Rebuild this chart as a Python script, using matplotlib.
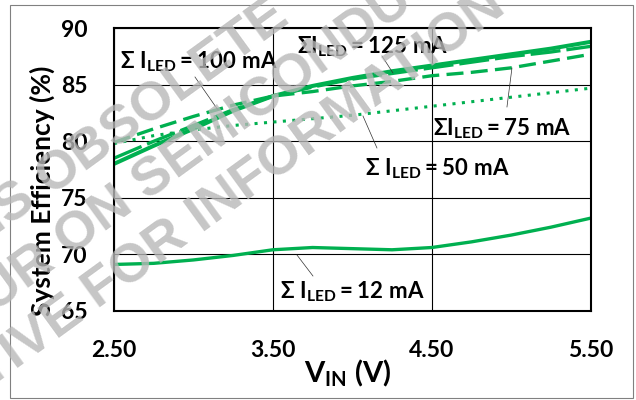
import matplotlib
matplotlib.use("Agg")
import matplotlib.pyplot as plt
from matplotlib.patches import Rectangle

plt.rcParams['font.family'] = ['Lato', 'DejaVu Sans']
plt.rcParams['mathtext.fontset'] = 'custom'
plt.rcParams['mathtext.rm'] = 'Lato:bold'
plt.rcParams['mathtext.bf'] = 'Lato:bold'
plt.rcParams['mathtext.it'] = 'Lato:bold'
plt.rcParams['mathtext.fallback'] = 'stixsans'

# input voltage (V)
vin = [2.50, 2.75, 3.00, 3.25, 3.50, 3.75, 4.00, 4.25, 4.50, 4.75, 5.00, 5.25, 5.50]

# system efficiency (%) per total LED current
eff_125 = [78.0, 79.6, 81.1, 82.7, 84.0, 84.9, 85.6, 86.2, 86.7, 87.2, 87.7, 88.2, 88.8]
eff_100 = [78.5, 80.0, 81.4, 82.8, 84.0, 84.8, 85.5, 86.0, 86.5, 87.0, 87.5, 87.9, 88.4]
eff_75 = [79.9, 81.1, 82.2, 83.2, 84.0, 84.4, 84.9, 85.3, 85.8, 86.1, 86.5, 87.1, 87.7]
eff_50 = [79.8, 80.5, 81.0, 81.4, 81.7, 82.0, 82.3, 82.7, 83.1, 83.5, 83.9, 84.3, 84.7]
eff_12 = [69.1, 69.2, 69.5, 69.9, 70.4, 70.6, 70.5, 70.4, 70.6, 71.1, 71.7, 72.4, 73.2]

x_ticks = [2.5, 3.5, 4.5, 5.5]
y_ticks = [65, 70, 75, 80, 85, 90]

green = '#00B050'

fig = plt.figure(figsize=(6.36, 4.0), dpi=100)
ax = fig.add_axes([0.1792, 0.223, 0.7495, 0.7063])

ax.plot(vin, eff_12, color=green, lw=2.4, solid_capstyle='butt')
ax.plot(vin, eff_50, color=green, lw=2.2, linestyle=(0, (1, 2.1)))
ax.plot(vin, eff_75, color=green, lw=2.4, linestyle=(0, (5.1, 2.2)))
ax.plot(vin, eff_100, color=green, lw=2.4, linestyle=(0, (9, 1.8)))
ax.plot(vin, eff_125, color=green, lw=2.9, solid_capstyle='butt')

ax.set_xlim(2.5, 5.5)
ax.set_ylim(65, 90)
ax.set_xticks(x_ticks)
ax.set_xticklabels([f"{t:.2f}" for t in x_ticks])
ax.set_yticks(y_ticks)
ax.tick_params(length=0, labelsize=16.5)
ax.tick_params(axis='x', pad=21)
ax.tick_params(axis='y', pad=19)
for lab in ax.get_xticklabels() + ax.get_yticklabels():
    lab.set_fontweight('bold')
ax.grid(True, color='black', lw=0.8)
ax.set_axisbelow(True)
for sp in ax.spines.values():
    sp.set_linewidth(1.5)
    sp.set_color('black')

ax.set_ylabel("System Efficiency (%)", fontsize=19, fontweight='bold')
ax.yaxis.set_label_coords(-0.124, 0.424)
ax.set_xlabel(r"$\mathbf{V_{IN}}$ (V)", fontsize=21, fontweight='bold')
ax.xaxis.set_label_coords(0.49, -0.165)


def px2data(px, py):
    return 2.5 + (px - 114) / 158.9, 90 - (py - 28.3) / 11.3


# labels: text, text start (px), baseline (px), leader start, leader end
labels = [
    (r"$\mathbf{\Sigma\ I_{LED} = 100\ mA}$", (120, 68), (195, 77), (218, 110)),
    (r"$\mathbf{\Sigma I_{LED} = 125\ mA}$", (297, 53), (382, 56), (393, 73)),
    (r"$\mathbf{\Sigma I_{LED} = 75\ mA}$", (433, 135), (512, 68), (507, 107)),
    (r"$\mathbf{\Sigma\ I_{LED} = 50\ mA}$", (365, 175), (363, 116), (377, 148)),
    (r"$\mathbf{\Sigma\ I_{LED} = 12\ mA}$", (280, 298), (297, 255), (313, 276)),
]
for txt, pos, p0, p1 in labels:
    ax.text(*px2data(*pos), txt, fontsize=16, ha='left', va='baseline', zorder=5)
    a = px2data(*p0)
    b = px2data(*p1)
    ax.plot([a[0], b[0]], [a[1], b[1]], color='#303030', lw=0.5, zorder=4)

# watermark, each line split where a visible word starts
wm = [
    ("THIS DEVICE IS", "OBSOLETE", (50, 196)),
    ("CONTACT YOUR", "ON SEMICONDUCTOR", (70, 258)),
    ("REPRESENTATIVE", "FOR INFORMATION", (98, 310)),
]
for left_txt, right_txt, (px, py) in wm:
    for txt, ha in ((left_txt + " ", 'right'), (right_txt, 'left')):
        fig.text(px / 636, 1 - py / 400, txt, fontsize=39,
                 fontweight='bold', family='Liberation Sans',
                 color='#b8b8b8', alpha=0.8, rotation=36,
                 rotation_mode='anchor', ha=ha, va='baseline', zorder=10)

fig.patches.append(Rectangle((10 / 636, 2 / 400), 623 / 636, 393 / 400,
                             transform=fig.transFigure, fill=False,
                             edgecolor='#808080', lw=0.8))

fig.savefig("out.png", dpi=100)
